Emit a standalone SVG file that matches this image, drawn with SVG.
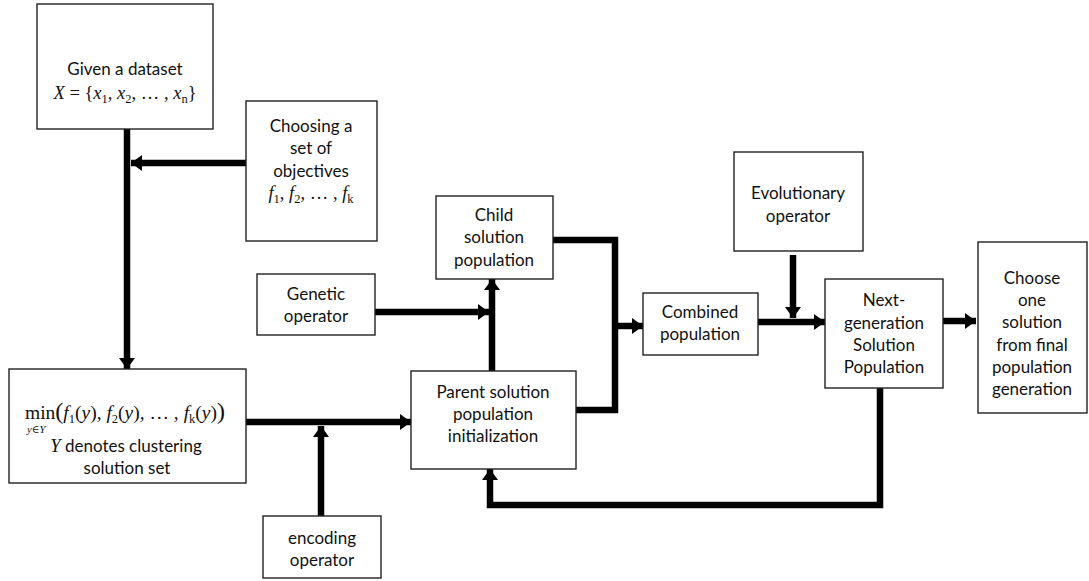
<svg xmlns="http://www.w3.org/2000/svg" width="1089" height="581" viewBox="0 0 1089 581">
  <style>
    .box { fill: #ffffff; stroke: #222222; stroke-width: 1.4; }
    .lbl { font-family: Lato, "Open Sans", "Liberation Sans", sans-serif; font-size: 17px; fill: #111111; text-anchor: middle; }
    .math { font-family: "Liberation Serif", "DejaVu Serif", serif; font-style: italic; font-size: 18.5px; fill: #111111; text-anchor: middle; }
    .up { font-style: normal; }
    .sub { font-size: 12.5px; font-style: normal; }
    .wire { fill: none; stroke: #000000; stroke-width: 6.5; stroke-linejoin: miter; }
  </style>
  <defs>
    <marker id="head" markerUnits="userSpaceOnUse" markerWidth="12" markerHeight="16" refX="11" refY="8" orient="auto">
      <path d="M0,0 L11,8 L0,16 z" fill="#000000"/>
    </marker>
  </defs>

  <rect width="1089" height="581" fill="#ffffff"/>

  <!-- connectors -->
  <g id="connectors">
    <path class="wire" d="M127,129 V369" marker-end="url(#head)"/>
    <path class="wire" d="M246,163 H131" marker-end="url(#head)"/>
    <path class="wire" d="M246,422 H411" marker-end="url(#head)"/>
    <path class="wire" d="M321,516 V426" marker-end="url(#head)"/>
    <path class="wire" d="M375,312 H489" marker-end="url(#head)"/>
    <path class="wire" d="M492,371 V279" marker-end="url(#head)"/>
    <path class="wire" d="M553,240 H615 V410 H576"/>
    <path class="wire" d="M615,326 H643" marker-end="url(#head)"/>
    <path class="wire" d="M758,322 H825" marker-end="url(#head)"/>
    <path class="wire" d="M793,255 V318" marker-end="url(#head)"/>
    <path class="wire" d="M943,321 H976" marker-end="url(#head)"/>
    <path class="wire" d="M880,388 V505 H490 V469" marker-end="url(#head)"/>
  </g>

  <g id="dataset">
    <rect class="box" x="37" y="4" width="176" height="125"/>
    <text class="lbl" x="125" y="75">Given a dataset</text>
    <text class="math" x="125" y="99">X <tspan class="up">= {</tspan>x<tspan class="sub" dy="4">1</tspan><tspan class="up" dy="-4">, </tspan>x<tspan class="sub" dy="4">2</tspan><tspan class="up" dy="-4">, … , </tspan>x<tspan class="sub" dy="4" font-style="italic">n</tspan><tspan class="up" dy="-4">}</tspan></text>
  </g>

  <g id="objectives">
    <rect class="box" x="246" y="101" width="131" height="140"/>
    <text class="lbl" x="311" y="132">Choosing a</text>
    <text class="lbl" x="311" y="154">set of</text>
    <text class="lbl" x="311" y="177">objectives</text>
    <text class="math" x="311" y="199">f<tspan class="sub" dy="4">1</tspan><tspan class="up" dy="-4">, </tspan>f<tspan class="sub" dy="4">2</tspan><tspan class="up" dy="-4">, … , </tspan>f<tspan class="sub" dy="4" font-style="italic">k</tspan></text>
  </g>

  <g id="minimize">
    <rect class="box" x="9" y="369" width="237" height="114"/>
    <text class="math" x="25" y="419" font-size="19.5" style="text-anchor:start;font-size:19.5px"><tspan class="up">min</tspan><tspan class="up" font-size="24">(</tspan>f<tspan class="sub" dy="4">1</tspan><tspan class="up" dy="-4">(</tspan>y<tspan class="up">), </tspan>f<tspan class="sub" dy="4">2</tspan><tspan class="up" dy="-4">(</tspan>y<tspan class="up">), … , </tspan>f<tspan class="sub" dy="4" font-style="italic">k</tspan><tspan class="up" dy="-4">(</tspan>y<tspan class="up">)</tspan><tspan class="up" font-size="24">)</tspan></text>
    <text class="math" x="27" y="433" font-size="10.5" style="text-anchor:start;font-size:10.5px">y<tspan class="up">∈</tspan>Y</text>
    <text class="lbl" x="126" y="452"><tspan font-family="Liberation Serif, serif" font-style="italic" font-size="18.5">Y</tspan> denotes clustering</text>
    <text class="lbl" x="127" y="474">solution set</text>
  </g>

  <g id="encoding">
    <rect class="box" x="263" y="516" width="118" height="62"/>
    <text class="lbl" x="322" y="544">encoding</text>
    <text class="lbl" x="322" y="566">operator</text>
  </g>

  <g id="genetic">
    <rect class="box" x="257" y="274" width="118" height="61"/>
    <text class="lbl" x="316" y="300">Genetic</text>
    <text class="lbl" x="316" y="322">operator</text>
  </g>

  <g id="child">
    <rect class="box" x="436" y="196" width="117" height="83"/>
    <text class="lbl" x="494" y="221">Child</text>
    <text class="lbl" x="494" y="243">solution</text>
    <text class="lbl" x="494" y="266">population</text>
  </g>

  <g id="parent">
    <rect class="box" x="411" y="371" width="165" height="98"/>
    <text class="lbl" x="493" y="398">Parent solution</text>
    <text class="lbl" x="493" y="420">population</text>
    <text class="lbl" x="493" y="442">initialization</text>
  </g>

  <g id="combined">
    <rect class="box" x="643" y="293" width="115" height="62"/>
    <text class="lbl" x="700" y="318">Combined</text>
    <text class="lbl" x="700" y="340">population</text>
  </g>

  <g id="evolutionary">
    <rect class="box" x="734" y="152" width="129" height="99"/>
    <text class="lbl" x="798" y="199">Evolutionary</text>
    <text class="lbl" x="798" y="222">operator</text>
  </g>

  <g id="nextgen">
    <rect class="box" x="825" y="279" width="118" height="109"/>
    <text class="lbl" x="884" y="306">Next-</text>
    <text class="lbl" x="884" y="329">generation</text>
    <text class="lbl" x="884" y="351">Solution</text>
    <text class="lbl" x="884" y="373">Population</text>
  </g>

  <g id="choose">
    <rect class="box" x="978" y="242" width="109" height="171"/>
    <text class="lbl" x="1032" y="284">Choose</text>
    <text class="lbl" x="1032" y="306">one</text>
    <text class="lbl" x="1032" y="328">solution</text>
    <text class="lbl" x="1032" y="351">from final</text>
    <text class="lbl" x="1032" y="373">population</text>
    <text class="lbl" x="1032" y="395">generation</text>
  </g>
</svg>
